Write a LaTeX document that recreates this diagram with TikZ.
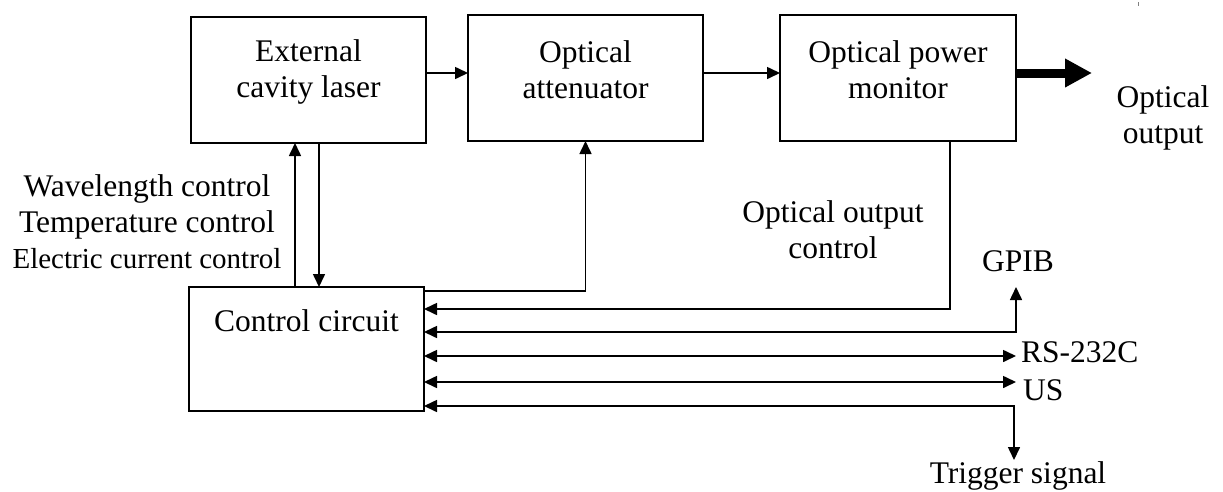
\documentclass[tikz,border=0pt]{standalone}
\usepackage{fontspec}
\setmainfont{Liberation Serif}
\usetikzlibrary{arrows.meta}
\begin{document}
\begin{tikzpicture}[x=1pt,y=-1pt,
  every node/.style={font=\fontsize{31.5}{36}\selectfont},
  blk/.style={draw, line width=1.6pt, minimum width=235pt, minimum height=126pt, inner sep=0pt, outer sep=0pt},
  txt/.style={align=center, inner sep=0pt},
  conn/.style={line width=1.6pt, >={Triangle[length=13pt,width=12pt]}},
  bigarrow/.style={line width=9pt, -{Triangle[length=27pt,width=27pt]}}]
\useasboundingbox (0,0) rectangle (1223,491);

% blocks
\node[blk] (ecl) at (308.5,80) {};
\node[blk] (att) at (585.5,78) {};
\node[blk, minimum width=236pt] (mon) at (898,78) {};
\node[blk, minimum height=124pt] (ctrl) at (306.5,349) {};

% block texts
\node[txt] (eclt) at (308.5,72) {External\\cavity laser};
\node[txt] (attt) at (585.5,70) {Optical\\attenuator};
\node[txt] (mont) at (898,70) {Optical power\\monitor};
\node[txt] (ctrlt) at (306.5,321) {Control circuit};

% labels
\node[txt] (lasctl) at (147,222) {Wavelength control\\Temperature control\\{\fontsize{29}{36}\selectfont Electric current control}};
\node[txt] (ooc) at (833,230) {Optical output\\control};
\node[txt] (oout) at (1163,118) {Optical\\output};
\node[txt] (gpib) at (1018,261) {GPIB};
\node[txt, anchor=west] (rs) at (1021,352) {RS-232C};
\node[txt, anchor=west] (us) at (1023,390) {US};
\node[txt] (trig) at (1018,476) {Trigger signal};

% helper coordinates
\coordinate (xup) at (295,0);
\coordinate (xdn) at (319,0);
\coordinate (xmon) at (950,0);
\coordinate (y1) at (0,291);
\coordinate (y2) at (0,309);
\coordinate (y3) at (0,332);
\coordinate (y4) at (0,356);
\coordinate (y5) at (0,382);
\coordinate (y6) at (0,406);
\coordinate (gpibend) at (1016,287);
\coordinate (rsend) at (1016,356);
\coordinate (usend) at (1016,382);
\coordinate (trigend) at (1014,460);
\coordinate (outend) at (1092,73);

% main optical path
\draw[conn,->] ([yshift=7pt]ecl.east) -- ([yshift=5pt]att.west);
\draw[conn,->] ([yshift=5pt]att.east) -- ([yshift=5pt]mon.west);
\draw[bigarrow] ([yshift=5pt]mon.east) -- (outend);

% laser control
\draw[conn,->] (ctrl.north -| xup) -- (ecl.south -| xup);
\draw[conn,->] (ecl.south -| xdn) -- (ctrl.north -| xdn);

% attenuator control
\draw[conn,->] (ctrl.east |- y1) -| (att.south);
% monitor feedback
\draw[conn,->] (mon.south -| xmon) |- (ctrl.east |- y2);
% interfaces
\draw[conn,<->] (ctrl.east |- y3) -| (gpibend);
\draw[conn,<->] (ctrl.east |- y4) -- (rsend);
\draw[conn,<->] (ctrl.east |- y5) -- (usend);
\draw[conn,<->] (ctrl.east |- y6) -| (trigend);

% small tick mark
\draw[gray, line width=0.8pt] (1138,2) -- (1138,6);
\end{tikzpicture}
\end{document}
